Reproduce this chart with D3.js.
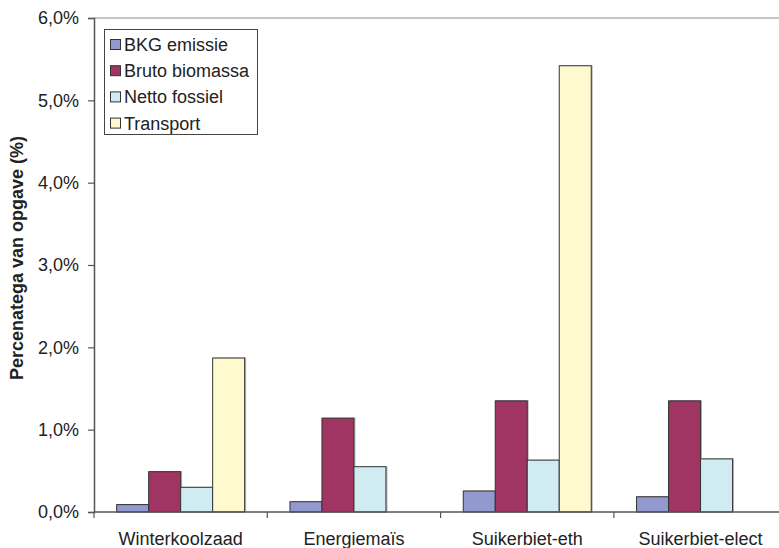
<!DOCTYPE html>
<html>
<head>
<meta charset="utf-8">
<script src="https://cdn.jsdelivr.net/npm/d3@7"></script>
<style>
  html, body { margin: 0; padding: 0; background: #fff; }
  svg { display: block; font-family: Arial, "Liberation Sans", sans-serif; }
</style>
</head>
<body>
<svg id="chart" width="779" height="548"></svg>
<script>
// Crop chains and the share of the total per component (%)
const categories = ["Winterkoolzaad", "Energiemaïs", "Suikerbiet-eth", "Suikerbiet-elect"];
const series = ["BKG emissie", "Bruto biomassa", "Netto fossiel", "Transport"];
const bkgEmissie    = [0.09, 0.125, 0.255, 0.185];
const brutoBiomassa = [0.49, 1.14, 1.35, 1.35];
const nettoFossiel  = [0.30, 0.55, 0.63, 0.645];
const transport     = [1.87, 0, 5.42, 0];
const yTicks = [0, 1, 2, 3, 4, 5, 6];

const colors = ["#9199cf", "#a03462", "#d0ecf2", "#fff9cf"];
const valuesBySeries = [bkgEmissie, brutoBiomassa, nettoFossiel, transport];

const svg = d3.select("#chart");
const plot = { left: 94, top: 18, bottom: 512, band: 173.3 };

const x0 = d3.scaleBand()
  .domain(categories)
  .range([plot.left, plot.left + plot.band * categories.length])
  .padding(0);

const x1 = d3.scaleBand()
  .domain(series)
  .range([0, x0.bandwidth()])
  .paddingInner(0)
  .paddingOuter(0.708);

const y = d3.scaleLinear().domain([0, 6]).range([plot.bottom, plot.top]);

const locale = d3.formatLocale({ decimal: ",", thousands: ".", grouping: [3], currency: ["€", ""] });
const fmt = v => locale.format(".1f")(v) + "%";

// Top edge of the plot area
svg.append("line")
  .attr("x1", plot.left).attr("x2", 779)
  .attr("y1", y(6)).attr("y2", y(6))
  .attr("stroke", "#c4c4c4").attr("stroke-width", 2);

// Bars
const groups = svg.append("g").selectAll("g")
  .data(categories)
  .join("g")
  .attr("transform", d => `translate(${x0(d)},0)`);

groups.selectAll("g.bar")
  .data((c, i) => series.map((s, k) => ({ s, k, v: valuesBySeries[k][i] })).filter(d => d.v > 0))
  .join("g")
  .attr("class", "bar")
  .each(function (d) {
    const g = d3.select(this);
    const bx = x1(d.s), bw = x1.bandwidth();
    // soft drop shadow on the right edge
    g.append("rect")
      .attr("x", bx + 1.5).attr("y", y(d.v) - 0.5)
      .attr("width", bw).attr("height", plot.bottom - y(d.v) + 0.5)
      .attr("fill", "#b8b8b8");
    g.append("rect")
      .attr("x", bx).attr("y", y(d.v))
      .attr("width", bw).attr("height", plot.bottom - y(d.v))
      .attr("fill", colors[d.k])
      .attr("stroke", "#333").attr("stroke-width", 1);
  });

// Y axis
const yAxis = svg.append("g")
  .attr("transform", `translate(${plot.left},0)`)
  .call(d3.axisLeft(y).tickValues(yTicks).tickFormat(fmt).tickSize(6).tickPadding(9));
yAxis.select(".domain").attr("stroke", "#555").attr("stroke-width", 1.5);
yAxis.selectAll(".tick line").attr("stroke", "#555").attr("stroke-width", 1.2);
yAxis.selectAll(".tick text").attr("font-size", 18).attr("fill", "#222");

// X axis with ticks on the category boundaries
const xAxis = svg.append("g")
  .attr("transform", `translate(0,${plot.bottom})`);
xAxis.append("line")
  .attr("x1", plot.left).attr("x2", 779)
  .attr("y1", 0).attr("y2", 0)
  .attr("stroke", "#555").attr("stroke-width", 1.5);
xAxis.selectAll("line.tick")
  .data(categories)
  .join("line")
  .attr("class", "tick")
  .attr("x1", d => x0(d)).attr("x2", d => x0(d))
  .attr("y1", 0).attr("y2", 6)
  .attr("stroke", "#555").attr("stroke-width", 1.2);
xAxis.selectAll("text")
  .data(categories)
  .join("text")
  .attr("x", d => x0(d) + x0.bandwidth() / 2)
  .attr("y", 33)
  .attr("text-anchor", "middle")
  .attr("font-size", 18)
  .attr("fill", "#222")
  .text(d => d);

// Y axis title
svg.append("text")
  .attr("transform", `translate(23,${(plot.top + plot.bottom) / 2 - 7}) rotate(-90)`)
  .attr("text-anchor", "middle")
  .attr("font-size", 18)
  .attr("font-weight", "bold")
  .attr("fill", "#222")
  .text("Percenatega van opgave (%)");

// Legend
const legend = svg.append("g").attr("transform", "translate(104,29)");
legend.append("rect")
  .attr("x", 0.5).attr("y", 0.5)
  .attr("width", 153).attr("height", 105)
  .attr("fill", "#fff").attr("stroke", "#444").attr("stroke-width", 1);
const items = legend.selectAll("g.item")
  .data(series)
  .join("g")
  .attr("class", "item")
  .attr("transform", (d, i) => `translate(6,${15.5 + i * 26.2})`);
items.append("rect")
  .attr("x", 0.5).attr("y", -5)
  .attr("width", 10).attr("height", 10)
  .attr("fill", (d, i) => colors[i])
  .attr("stroke", "#333").attr("stroke-width", 1);
items.append("text")
  .attr("x", 14).attr("y", 6.5)
  .attr("font-size", 18)
  .attr("fill", "#222")
  .text(d => d);
</script>
</body>
</html>
